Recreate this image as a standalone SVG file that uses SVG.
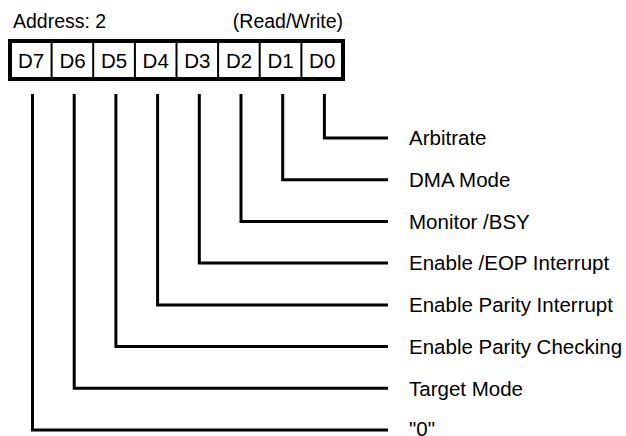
<svg xmlns="http://www.w3.org/2000/svg" width="626" height="436" viewBox="0 0 626 436">
<style>
text{font-family:"Liberation Sans",Arial,sans-serif;fill:#000}
.hdr{font-size:19.5px}
.cell{font-size:20.5px;text-anchor:middle}
.lbl{font-size:20.5px}
.div{stroke:#000;stroke-width:2;fill:none}
.wire{stroke:#000;stroke-width:3;fill:none}
</style>
<rect width="626" height="436" fill="#fff"/>
<g id="header">
<text class="hdr" x="13" y="28">Address: 2</text>
<text class="hdr" x="343" y="28" text-anchor="end">(Read/Write)</text>
</g>
<g id="register">
<rect x="10" y="41" width="333" height="38" fill="#fff" stroke="#000" stroke-width="4"/>
<path class="div" d="M51.6 41V79M93.2 41V79M134.9 41V79M176.5 41V79M218.1 41V79M259.7 41V79M301.4 41V79"/>
<text class="cell" x="31" y="68">D7</text>
<text class="cell" x="72.5" y="68">D6</text>
<text class="cell" x="114" y="68">D5</text>
<text class="cell" x="155.7" y="68">D4</text>
<text class="cell" x="197.3" y="68">D3</text>
<text class="cell" x="239" y="68">D2</text>
<text class="cell" x="280.6" y="68">D1</text>
<text class="cell" x="322.2" y="68">D0</text>
</g>
<g id="connectors">
<path class="wire" d="M324.4 94V138H388"/>
<path class="wire" d="M282.7 94V179.7H388"/>
<path class="wire" d="M241 94V221.4H388"/>
<path class="wire" d="M199.3 94V263.1H388"/>
<path class="wire" d="M157.6 94V304.9H388"/>
<path class="wire" d="M115.9 94V346.6H388"/>
<path class="wire" d="M74.2 94V388.3H388"/>
<path class="wire" d="M32.5 94V430H388"/>
</g>
<g id="bit0"><text class="lbl" x="409" y="145.3">Arbitrate</text></g>
<g id="bit1"><text class="lbl" x="409" y="187">DMA Mode</text></g>
<g id="bit2"><text class="lbl" x="409" y="228.7">Monitor /BSY</text></g>
<g id="bit3"><text class="lbl" x="409" y="270.4">Enable /EOP Interrupt</text></g>
<g id="bit4"><text class="lbl" x="409" y="312.2">Enable Parity Interrupt</text></g>
<g id="bit5"><text class="lbl" x="409" y="353.9">Enable Parity Checking</text></g>
<g id="bit6"><text class="lbl" x="409" y="395.6">Target Mode</text></g>
<g id="bit7"><text class="lbl" x="409" y="436">"0"</text></g>
</svg>
